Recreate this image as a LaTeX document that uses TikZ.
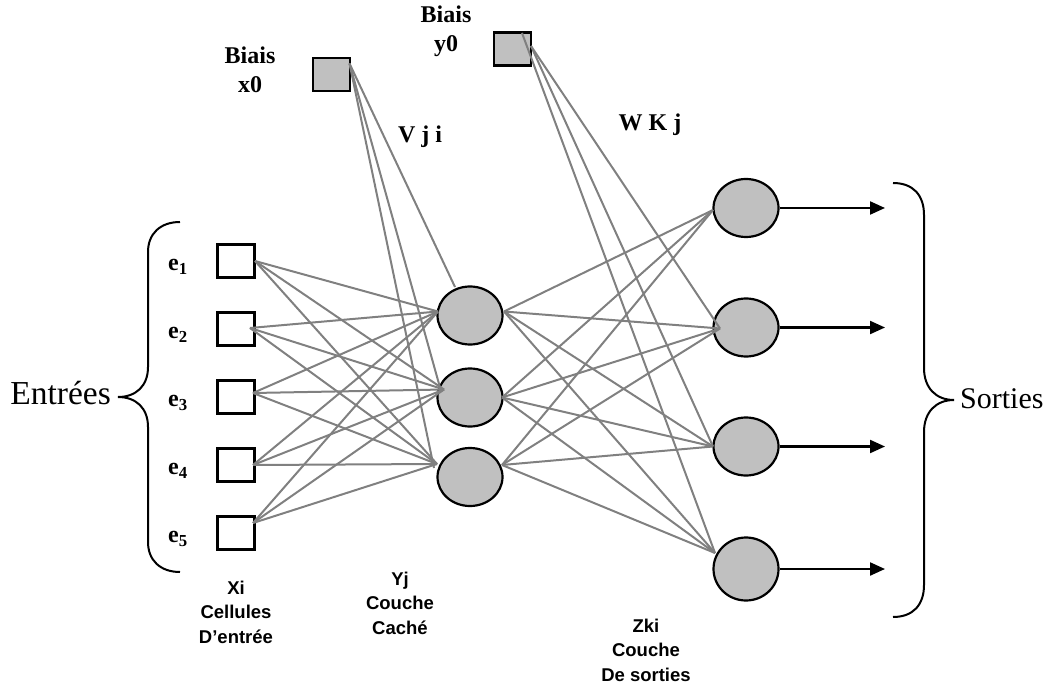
\documentclass[tikz,border=0pt]{standalone}
\usepackage{fontspec}
\setmainfont{Liberation Serif}
\newfontfamily\labelsans{Liberation Sans}
\usetikzlibrary{calc,arrows.meta,shapes.geometric}
\definecolor{wiregray}{RGB}{128,128,128}
\definecolor{cellgray}{RGB}{192,192,192}
\begin{document}
\begin{tikzpicture}[x=1pt,y=-1pt,
  inbox/.style={draw=black,line width=2.2pt,fill=white,minimum width=37pt,minimum height=33pt,inner sep=0pt},
  biasbox/.style={inbox,fill=cellgray},
  neuron/.style={ellipse,draw=black,line width=2.2pt,fill=cellgray,minimum width=65pt,minimum height=58pt,inner sep=0pt},
  wire/.style={draw=wiregray,line width=2pt},
  outarrow/.style={draw=black,line width=2.2pt,-{Triangle[length=15pt,width=13pt]}},
  brace/.style={draw=black,line width=2pt},
  serifb/.style={font=\fontsize{24}{29}\selectfont\bfseries,align=center,inner sep=0pt},
  elabel/.style={font=\fontsize{24}{28}\selectfont\bfseries,inner sep=0pt},
  sideword/.style={font=\fontsize{32}{36}\selectfont,inner sep=0pt},
  layerlabel/.style={font=\labelsans\fontsize{18.5}{24.5}\selectfont\bfseries,align=center,inner sep=0pt}]
\useasboundingbox (0,0) rectangle (1054,684);

% input cells
\foreach \i/\y in {1/261,2/329,3/397,4/465,5/533}{
  \node[inbox] (e\i) at (236,\y) {};
  \node[elabel] (le\i) at (178,\y+6) {e\textsubscript{\i}};
}
% hidden layer
\node[neuron] (h1) at (470,315.5) {};
\node[neuron] (h2) at (470,397.5) {};
\node[neuron] (h3) at (470,477) {};
% output layer
\node[neuron] (z1) at (746,208) {};
\node[neuron] (z2) at (746,327.5) {};
\node[neuron] (z3) at (746,446.5) {};
\node[neuron,minimum height=63pt] (z4) at (746,569) {};
% bias cells
\node[biasbox] (x0) at (331.5,74.5) {};
\node[biasbox] (y0) at (512.5,49) {};

% wire end points
\coordinate (e1o) at ($(e1.center)+(19,0)$);
\coordinate (e2o) at ($(e2.center)+(14,-1)$);
\coordinate (e3o) at ($(e3.center)+(17,-4)$);
\coordinate (e4o) at ($(e4.center)+(17,0)$);
\coordinate (e5o) at ($(e5.center)+(17,-10)$);
\coordinate (h1i) at ($(h1.center)+(-32,-4)$);
\coordinate (h2i) at ($(h2.center)+(-26,-8)$);
\coordinate (h3i) at ($(h3.center)+(-33,-13)$);
\coordinate (h1o) at ($(h1.center)+(34,-4)$);
\coordinate (h2o) at ($(h2.center)+(32,0)$);
\coordinate (h3o) at ($(h3.center)+(32,-12)$);
\coordinate (z1i) at ($(z1.center)+(-33,2)$);
\coordinate (z2i) at ($(z2.center)+(-26,1)$);
\coordinate (z3i) at ($(z3.center)+(-33,0)$);
\coordinate (z4i) at ($(z4.center)+(-31,-16)$);
\coordinate (x0o) at ($(x0.center)+(18,-11)$);
\coordinate (y0t) at ($(y0.center)+(9.5,-16)$);
\coordinate (y0r) at ($(y0.center)+(18.5,-3)$);
\coordinate (h1top) at ($(h1.center)+(-15,-28.5)$);
\coordinate (h2b) at ($(h2.center)+(-30,-10)$);
\coordinate (h3b) at ($(h3.center)+(-36,-9)$);

% input -> hidden
\foreach \i in {1,...,5}{
  \foreach \j in {1,2,3}{
    \draw[wire] (e\i o) -- (h\j i);
  }
}
% hidden -> output
\foreach \j in {1,2,3}{
  \foreach \k in {1,...,4}{
    \draw[wire] (h\j o) -- (z\k i);
  }
}
% bias wires
\draw[wire] (x0o) -- (h1top);
\draw[wire] (x0o) -- (h2b);
\draw[wire] (x0o) -- (h3b);
\draw[wire] (y0r) -- (z2i);
\draw[wire] (y0r) -- (z3i);
\draw[wire] (y0t) -- (z4i);

% outputs
\foreach \k in {1,...,4}{
  \coordinate (o\k) at ($(z\k.center)+(139,0)$);
  \draw[outarrow] (z\k.east) -- (o\k);
}

% braces
\draw[brace] (180,222) .. controls (160,222) and (148,234) .. (148,252)
  -- (148,367) .. controls (148,386) and (136,397) .. (118,397)
  .. controls (136,397) and (148,408) .. (148,427)
  -- (148,542) .. controls (148,560) and (160,572) .. (180,572);
\draw[brace] (893,183) .. controls (913,183) and (924,195) .. (924,215)
  -- (924,368) .. controls (924,388) and (936,400) .. (954,400)
  .. controls (936,400) and (924,412) .. (924,432)
  -- (924,585) .. controls (924,605) and (913,617) .. (893,617);

% texts
\node[sideword,font=\fontsize{33.5}{38}\selectfont,anchor=east] (entrees) at (111,393) {Entrées};
\node[sideword,font=\fontsize{30}{34}\selectfont,anchor=west] (sorties) at (960,399) {Sorties};
\node[serifb] (bx0) at (250,70) {Biais\\x0};
\node[serifb] (by0) at (446,31) {Biais\\y0};
\node[serifb] (vji) at (420,137) {V j i};
\node[serifb] (wkj) at (650,125) {W K j};
\node[layerlabel] (lx) at (236,612) {Xi\\Cellules\\D’entrée};
\node[layerlabel] (ly) at (400,603) {Yj\\Couche\\Caché};
\node[layerlabel] (lz) at (646,650) {Zki\\Couche\\De sorties};
\end{tikzpicture}
\end{document}
